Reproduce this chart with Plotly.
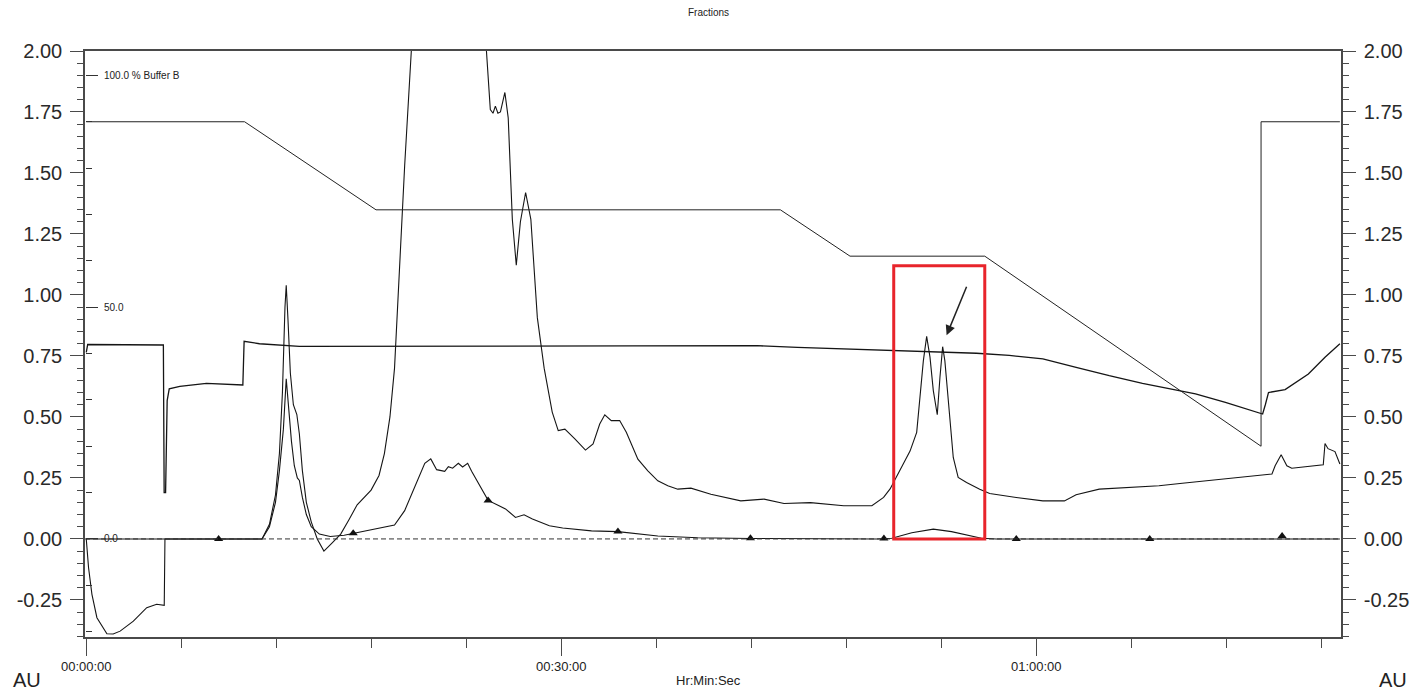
import plotly.graph_objects as go

# ---------------- data (time in minutes, absorbance in AU) ----------------
uv1_t = [0.0, 0.145, 0.358, 0.673, 1.302, 1.70, 2.138, 2.975, 3.818, 4.447, 4.925, 4.94, 4.97,
         8.0, 11.1, 11.57, 11.95, 12.2, 12.39, 12.55, 12.63, 12.74, 12.89, 13.08, 13.3, 13.46,
         13.65, 13.9, 14.21, 14.59, 15.01, 15.47, 16.07, 16.6, 17.11, 17.99, 18.49, 18.83, 19.18,
         19.47, 19.79, 20.11, 20.53, 20.88, 22.26, 24.15, 24.97, 25.27, 25.52, 25.69, 25.84, 26.0,
         26.16, 26.44, 26.65, 26.91, 27.16, 27.42, 27.75, 28.08, 28.49, 28.92, 29.43, 29.81, 30.23,
         30.86, 31.53, 32.01, 32.43, 32.75, 33.16, 33.69, 34.11, 34.84, 35.47, 36.1, 36.73, 37.36,
         38.19, 39.45, 41.34, 42.81, 44.07, 45.74, 47.0, 47.84, 49.62, 50.36, 50.77, 51.4, 52.03,
         52.45, 52.66, 52.87, 53.08, 53.29, 53.5, 53.75, 53.92, 54.09, 54.23, 54.51, 54.76, 55.07,
         55.6, 56.43, 57.06, 58.74, 60.42, 61.78, 62.52, 63.98, 65.66, 67.75, 69.23, 71.95, 74.89,
         75.09, 75.47, 75.83, 76.14, 78.13, 78.24, 78.43, 78.87, 79.18]
uv1_v = [0.0, -0.118, -0.227, -0.323, -0.389, -0.39, -0.378, -0.337, -0.282, -0.268, -0.272, -0.005, 0.0,
         0.0, 0.0, 0.06, 0.18, 0.35, 0.6, 0.95, 1.04, 0.90, 0.68, 0.55, 0.51, 0.43,
         0.28, 0.15, 0.07, 0.0, -0.05, -0.02, 0.02, 0.08, 0.14, 0.2, 0.26, 0.35, 0.5,
         0.70, 1.115, 1.53, 2.0, 2.4, 2.9, 2.8, 2.3, 2.0, 1.76, 1.745, 1.774, 1.745,
         1.75, 1.83, 1.726, 1.31, 1.122, 1.30, 1.42, 1.31, 0.907, 0.70, 0.52, 0.444, 0.45,
         0.41, 0.364, 0.389, 0.471, 0.509, 0.485, 0.485, 0.437, 0.327, 0.279, 0.238, 0.218, 0.204,
         0.208, 0.183, 0.156, 0.163, 0.145, 0.149, 0.142, 0.136, 0.136, 0.17, 0.205, 0.28, 0.36,
         0.437, 0.595, 0.73, 0.83, 0.745, 0.608, 0.509, 0.663, 0.788, 0.73, 0.526, 0.334, 0.252,
         0.231, 0.204, 0.186, 0.17, 0.156, 0.156, 0.181, 0.204, 0.21, 0.218, 0.228, 0.247, 0.266,
         0.30, 0.345, 0.30, 0.29, 0.304, 0.391, 0.37, 0.358, 0.307]

uv2_t = [0.0, 11.1, 11.57, 11.95, 12.2, 12.45, 12.63, 12.77, 12.96, 13.14, 13.33, 13.46, 13.65,
         13.9, 14.21, 14.72, 15.41, 16.29, 16.87, 17.86, 19.47, 20.11, 20.94, 21.38, 21.76, 22.13,
         22.64, 22.87, 23.14, 23.5, 23.77, 24.09, 24.34, 24.78, 25.38, 26.04, 26.48, 27.11, 27.65,
         28.18, 29.25, 30.09, 31.91, 33.58, 36.1, 38.62, 41.95, 49.94, 50.88, 52.14, 53.5, 54.65,
         56.54, 57.48, 79.18]
uv2_v = [0.0, 0.0, 0.05, 0.15, 0.28, 0.45, 0.656, 0.55, 0.40, 0.30, 0.25, 0.24, 0.17,
         0.10, 0.05, 0.02, 0.01, 0.015, 0.023, 0.035, 0.057, 0.116, 0.24, 0.31, 0.328, 0.284,
         0.277, 0.296, 0.29, 0.31, 0.295, 0.31, 0.277, 0.227, 0.158, 0.137, 0.123, 0.088, 0.099,
         0.082, 0.054, 0.045, 0.033, 0.03, 0.012, 0.005, 0.002, 0.0, 0.003, 0.025, 0.04, 0.03,
         0.003, 0.0, 0.0]

cond_t = [0.0, 0.09, 4.87, 4.92, 5.01, 5.11, 5.24, 5.91, 7.59, 9.89, 9.97, 10.94, 13.46, 26.04,
          35.47, 42.39, 44.91, 48.05, 51.19, 56.23, 58.3, 60.42, 62.52, 64.61, 66.71, 68.81, 70.06,
          71.95, 74.3, 74.47, 74.67, 75.72, 77.19, 78.24, 79.18]
cond_v = [0.765, 0.797, 0.795, 0.19, 0.19, 0.567, 0.615, 0.625, 0.638, 0.631, 0.81, 0.80, 0.789, 0.789,
          0.791, 0.792, 0.785, 0.779, 0.77, 0.761, 0.752, 0.738, 0.703, 0.669, 0.638, 0.612, 0.595,
          0.56, 0.512, 0.55, 0.60, 0.612, 0.676, 0.745, 0.80]

grad_t = [0.0, 10.0, 18.3, 43.84, 48.24, 56.75, 74.2, 74.2, 79.18]
grad_pct = [90, 90, 71, 71, 61, 61, 20, 90, 90]

frac_t = [8.36, 16.86, 25.38, 33.58, 41.95, 50.38, 58.74, 67.17, 75.53]
frac_v = [0.0, 0.023, 0.158, 0.03, 0.003, 0.002, 0.0, 0.0, 0.012]

baseline_t = [-0.08, 79.25]
baseline_v = [0.0, 0.0]

x_tickvals = [0, 30, 60]
x_ticktext = ["00:00:00", "00:30:00", "01:00:00"]
y_tickvals = [-0.25, 0.0, 0.25, 0.5, 0.75, 1.0, 1.25, 1.5, 1.75, 2.0]
y_ticktext = [f"{v:.2f}" for v in y_tickvals]
pb_tickvals = [0, 50, 100]
pb_ticktext = ["0.0", "50.0", "100.0 % Buffer B"]

highlight_t = [51.0, 56.75]
highlight_v = [0.0, 1.12]
arrow_tail = (55.64, 1.04)
arrow_tip = (54.34, 0.835)

X_RANGE = [-0.08, 79.25]
Y_RANGE = [-0.402, 2.0]
PB_AU = 1.9  # AU height of 100 % Buffer B

# ---------------- figure ----------------
INK = "#151515"
AXC = "#4a4a4a"
FONT = "Liberation Sans, Arial, sans-serif"
L, R, T, B = 85, 75, 51, 55
W, H = 1421, 692
pw, ph = W - L - R, H - T - B


def px_to_paper(px, py):
    return (px - L) / pw, (H - B - py) / ph


fig = go.Figure()
fig.add_trace(go.Scatter(x=baseline_t, y=baseline_v, mode="lines", yaxis="y2",
                         line=dict(color="#333", width=1, dash="5px,3px"), hoverinfo="skip"))
fig.add_trace(go.Scatter(x=grad_t, y=grad_pct, mode="lines", yaxis="y3",
                         line=dict(color="#222", width=1)))
fig.add_trace(go.Scatter(x=cond_t, y=cond_v, mode="lines",
                         line=dict(color=INK, width=1.3)))
fig.add_trace(go.Scatter(x=uv2_t, y=uv2_v, mode="lines",
                         line=dict(color=INK, width=1.1)))
fig.add_trace(go.Scatter(x=uv1_t, y=uv1_v, mode="lines",
                         line=dict(color=INK, width=1.1)))
fig.add_trace(go.Scatter(x=frac_t, y=frac_v, mode="markers",
                         marker=dict(symbol="triangle-up", size=8, color="#111")))

fig.add_shape(type="rect", xref="x", yref="y",
              x0=highlight_t[0], x1=highlight_t[1], y0=highlight_v[0], y1=highlight_v[1],
              line=dict(color="#e8242b", width=3))

fig.add_annotation(x=arrow_tip[0], y=arrow_tip[1], ax=arrow_tail[0], ay=arrow_tail[1],
                   xref="x", yref="y", axref="x", ayref="y", text="",
                   showarrow=True, arrowhead=2, arrowsize=1.3, arrowwidth=1.5, arrowcolor="#222")

for text, (px, py), size in [("Fractions", (711, 13), 10), ("Hr:Min:Sec", (711, 680), 13),
                             ("AU", (27, 680), 20), ("AU", (1398, 680), 20)]:
    ax_, ay_ = px_to_paper(px, py)
    fig.add_annotation(text=text, x=ax_, y=ay_, xref="paper", yref="paper",
                       xanchor="center", yanchor="middle", showarrow=False,
                       font=dict(size=size, color="#222", family=FONT))

common_y = dict(range=Y_RANGE, tickmode="array", tickvals=y_tickvals, ticktext=y_ticktext,
                ticks="outside", ticklen=13, tickwidth=1.3, tickcolor=AXC,
                showline=True, linecolor=AXC, linewidth=1.5, showgrid=False, zeroline=False,
                tickfont=dict(size=20, color="#2a2a2a", family=FONT), ticklabelstandoff=4,
                minor=dict(dtick=0.05, tick0=0, ticks="outside", ticklen=6,
                           tickwidth=1.2, tickcolor=AXC))

fig.update_layout(
    width=W, height=H, margin=dict(l=L, r=R, t=T, b=B),
    paper_bgcolor="white", plot_bgcolor="white", showlegend=False,
    xaxis=dict(range=X_RANGE, tickmode="array", tickvals=x_tickvals, ticktext=x_ticktext,
               ticks="outside", ticklen=17, tickwidth=1.2, tickcolor=AXC,
               showline=True, linecolor=AXC, linewidth=1.5, mirror=True,
               showgrid=False, zeroline=False,
               tickfont=dict(size=13, color="#222", family=FONT),
               minor=dict(dtick=6, tick0=0, ticks="outside", ticklen=9,
                          tickwidth=1.2, tickcolor=AXC)),
    yaxis=dict(side="left", **common_y),
    yaxis2=dict(overlaying="y", side="right", **common_y),
    yaxis3=dict(overlaying="y", side="right", anchor="free", position=0,
                range=[Y_RANGE[0] / PB_AU * 100, Y_RANGE[1] / PB_AU * 100],
                tickmode="array", tickvals=pb_tickvals, ticktext=pb_ticktext,
                ticks="outside", ticklen=12, tickwidth=1.2, tickcolor="#333",
                ticklabelstandoff=4,
                showline=False, showgrid=False, zeroline=False,
                tickfont=dict(size=10, color="#222", family=FONT),
                minor=dict(dtick=10, tick0=0, ticks="outside", ticklen=6,
                           tickwidth=1.2, tickcolor="#333")),
)

fig.write_html("out.html")
